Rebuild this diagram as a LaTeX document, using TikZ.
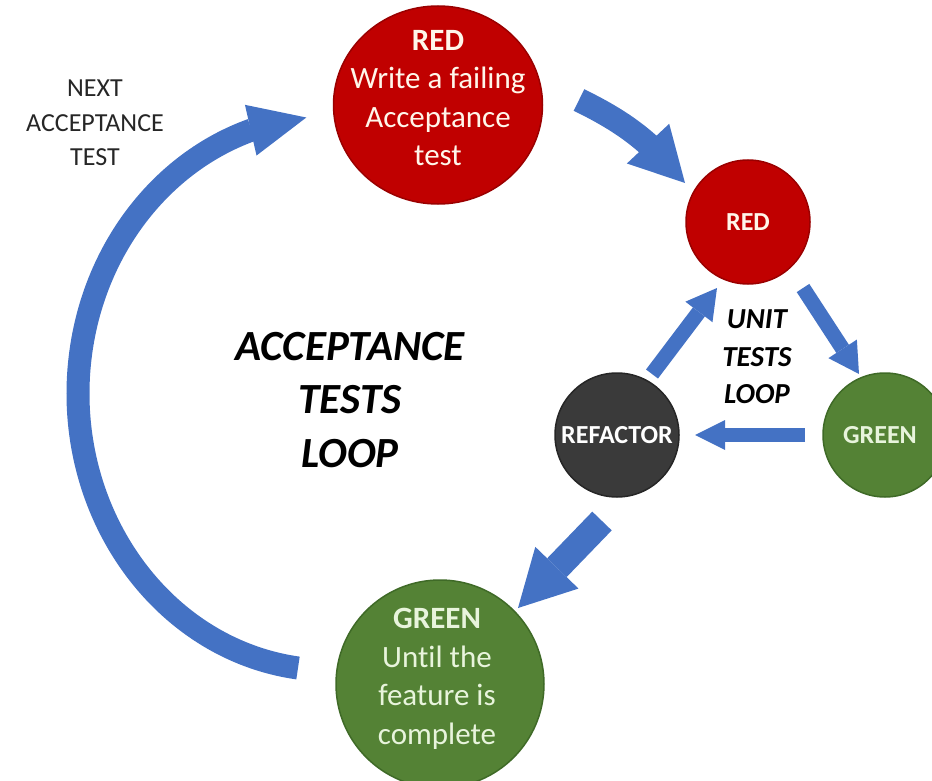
\documentclass[tikz,border=0pt]{standalone}
\usepackage{fontspec}
\setmainfont{Carlito}[Ligatures=NoCommon]
\usetikzlibrary{arrows.meta,bending,shapes.geometric}
\definecolor{arrowblue}{HTML}{4472C4}
\definecolor{redfill}{HTML}{C00000}
\definecolor{redborder}{HTML}{9A0000}
\definecolor{greenfill}{HTML}{548235}
\definecolor{greenborder}{HTML}{3F6A27}
\definecolor{darkfill}{HTML}{3A3A3A}
\definecolor{darkborder}{HTML}{262626}
\definecolor{redtext}{HTML}{FFF6EA}
\definecolor{greentext}{HTML}{E8F4DC}
\begin{document}
\begin{tikzpicture}[x=1pt,y=1pt,
  arrowline/.style={draw=arrowblue, line cap=butt},
  redball/.style={fill=redfill, draw=redborder, line width=1.5pt, inner sep=0pt},
  greenball/.style={circle, fill=greenfill, draw=greenborder, line width=1.5pt, inner sep=0pt},
  darkball/.style={circle, fill=darkfill, draw=darkborder, line width=1.5pt, inner sep=0pt},
  bigtext/.style={font=\fontsize{31}{38.5}\selectfont, align=center},
  smalltext/.style={font=\fontsize{26}{30}\selectfont\bfseries, align=center},
  loopbig/.style={font=\fontsize{43}{53.5}\selectfont\bfseries\itshape, align=center},
  loopsmall/.style={font=\fontsize{29}{37.5}\selectfont\bfseries\itshape, align=center},
  plaintext/.style={font=\fontsize{26}{34.5}\selectfont, align=center, text=black!85}
]
\useasboundingbox (0,0) rectangle (932,-781);

% circles
\node[redball, ellipse, minimum width=209pt, minimum height=198pt] (bigred) at (438,-105) {};
\node[bigtext, text=redtext] (bigredtxt) at ([yshift=7pt]bigred.center) {\textbf{RED}\\Write a failing\\Acceptance\\test};

\node[redball, circle, minimum size=124pt] (smallred) at (748,-222) {};
\node[smalltext, text=redtext] (smallredtxt) at (smallred.center) {RED};

\node[darkball, minimum size=124pt] (refactor) at (617,-435) {};
\node[smalltext, text=white] (refactortxt) at (refactor.center) {REFACTOR};

\node[greenball, minimum size=124pt] (smallgreen) at (885,-435) {};
\node[smalltext, text=greentext] (smallgreentxt) at (880,-435) {GREEN};

\node[greenball, minimum size=208pt] (biggreen) at (440,-684) {};
\node[bigtext, text=greentext] (biggreentxt) at ([xshift=-3pt,yshift=5pt]biggreen.center) {\textbf{GREEN}\\Until the\\feature is\\complete};

% texts
\node[plaintext] (next) at (95,-123) {NEXT\\ACCEPTANCE\\TEST};
\node[loopbig] (accloop) at (350,-400) {ACCEPTANCE\\TESTS\\LOOP};
\node[loopsmall] (unitloop) at (757,-357) {UNIT\\TESTS\\LOOP};

% arrow end points
\coordinate (a1s) at (579,-100);
\coordinate (a1e) at (685,-183);
\coordinate (a2s) at (803,-288);
\coordinate (a2e) at (859,-374);
\coordinate (a3s) at (805,-435);
\coordinate (a3e) at (695,-435);
\coordinate (a4s) at (652,-374);
\coordinate (a4e) at (717,-288);
\coordinate (a5s) at (602,-521);
\coordinate (a5e) at (518,-608);
\coordinate (a6s) at (298,-668);

% arrows
\draw[arrowline, line width=24pt, -{Triangle[length=54pt,width=58pt,line width=0pt,flex]}] (a1s) to[bend left=12] (a1e);
\draw[arrowline, line width=15pt, -{Triangle[length=30pt,width=34pt,line width=0pt]}] (a2s) -- (a2e);
\draw[arrowline, line width=14pt, -{Triangle[length=30pt,width=30pt,line width=0pt]}] (a3s) -- (a3e);
\draw[arrowline, line width=15pt, -{Triangle[length=30pt,width=34pt,line width=0pt]}] (a4s) -- (a4e);
\draw[arrowline, line width=27pt, -{Triangle[length=56pt,width=60pt,line width=0pt]}] (a5s) -- (a5e);
\draw[arrowline, line width=23pt, -{Triangle[length=57pt,width=52pt,line width=0pt,flex]}] (a6s) arc[start angle=262.7, end angle=95.4, x radius=252pt, y radius=277pt];
\end{tikzpicture}
\end{document}
